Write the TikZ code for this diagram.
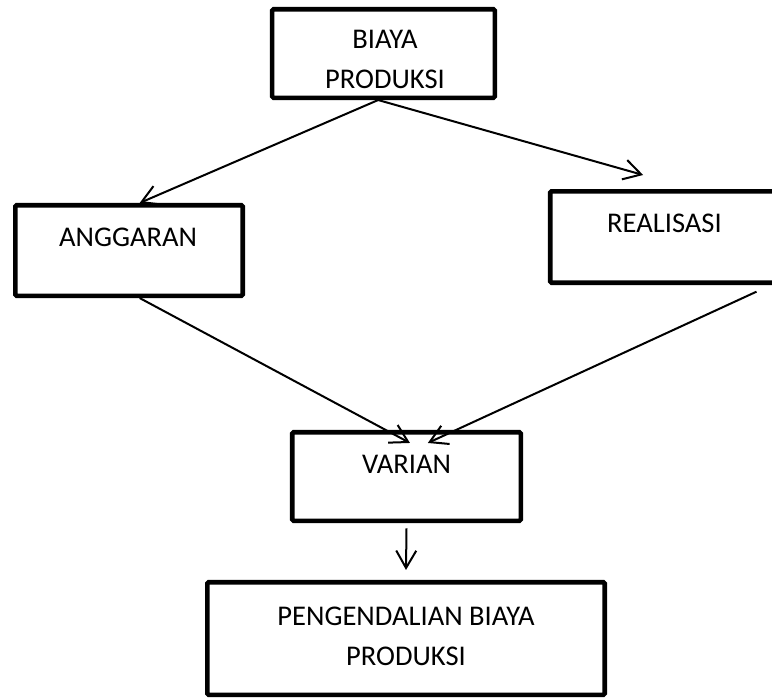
\documentclass[tikz,border=0pt]{standalone}
\usepackage{fontspec}
\setmainfont{Carlito}
\usetikzlibrary{arrows.meta}

\begin{document}
\begin{tikzpicture}[->,>={Straight Barb[length=13pt,width=15pt]},x=0.75pt,y=-0.75pt,
                    line width=1.5pt]
  \tikzstyle{box}=[draw=black,line width=3.4pt,rounded corners=1pt,rectangle]
  \tikzstyle{txt}=[inner sep=0pt,align=center,font=\fontsize{21.4}{30}\selectfont]

  \clip (0,0) rectangle (772,700);

  \node[box,minimum width=167pt,minimum height=66.4pt]   (biaya)     at (383.5,53.5)  {};
  \node[box,minimum width=170.6pt,minimum height=67.9pt] (anggaran)  at (129,250.5)   {};
  \node[box,minimum width=171.4pt,minimum height=68.6pt] (realisasi) at (664.5,237)   {};
  \node[box,minimum width=171.4pt,minimum height=66.4pt] (varian)    at (406.5,476.5) {};
  \node[box,minimum width=298.1pt,minimum height=84.4pt] (pengendalian) at (406,638.5) {};

  \node[txt] (biayatxt)     at (385,59)    {BIAYA\\PRODUKSI};
  \node[txt] (anggarantxt)  at (128,237)   {ANGGARAN};
  \node[txt] (realisasitxt) at (664.5,223) {REALISASI};
  \node[txt] (variantxt)    at (406.5,464) {VARIAN};
  \node[txt] (pengtxt)      at (406,636)   {PENGENDALIAN BIAYA\\PRODUKSI};

  \path ([xshift=-4pt]biaya.south)    edge ([xshift=8pt]anggaran.north)
        ([xshift=-4pt]biaya.south)    edge ([xshift=-16pt,yshift=10.5pt]realisasi.north)
        ([xshift=8pt]anggaran.south)  edge ([xshift=2.6pt,yshift=-9.75pt]varian.north)
        ([xshift=69pt,yshift=-5pt]realisasi.south) edge ([xshift=16pt,yshift=-9.75pt]varian.north)
        ([yshift=-4pt]varian.south)   edge ([yshift=7.5pt]pengendalian.north);
\end{tikzpicture}
\end{document}
